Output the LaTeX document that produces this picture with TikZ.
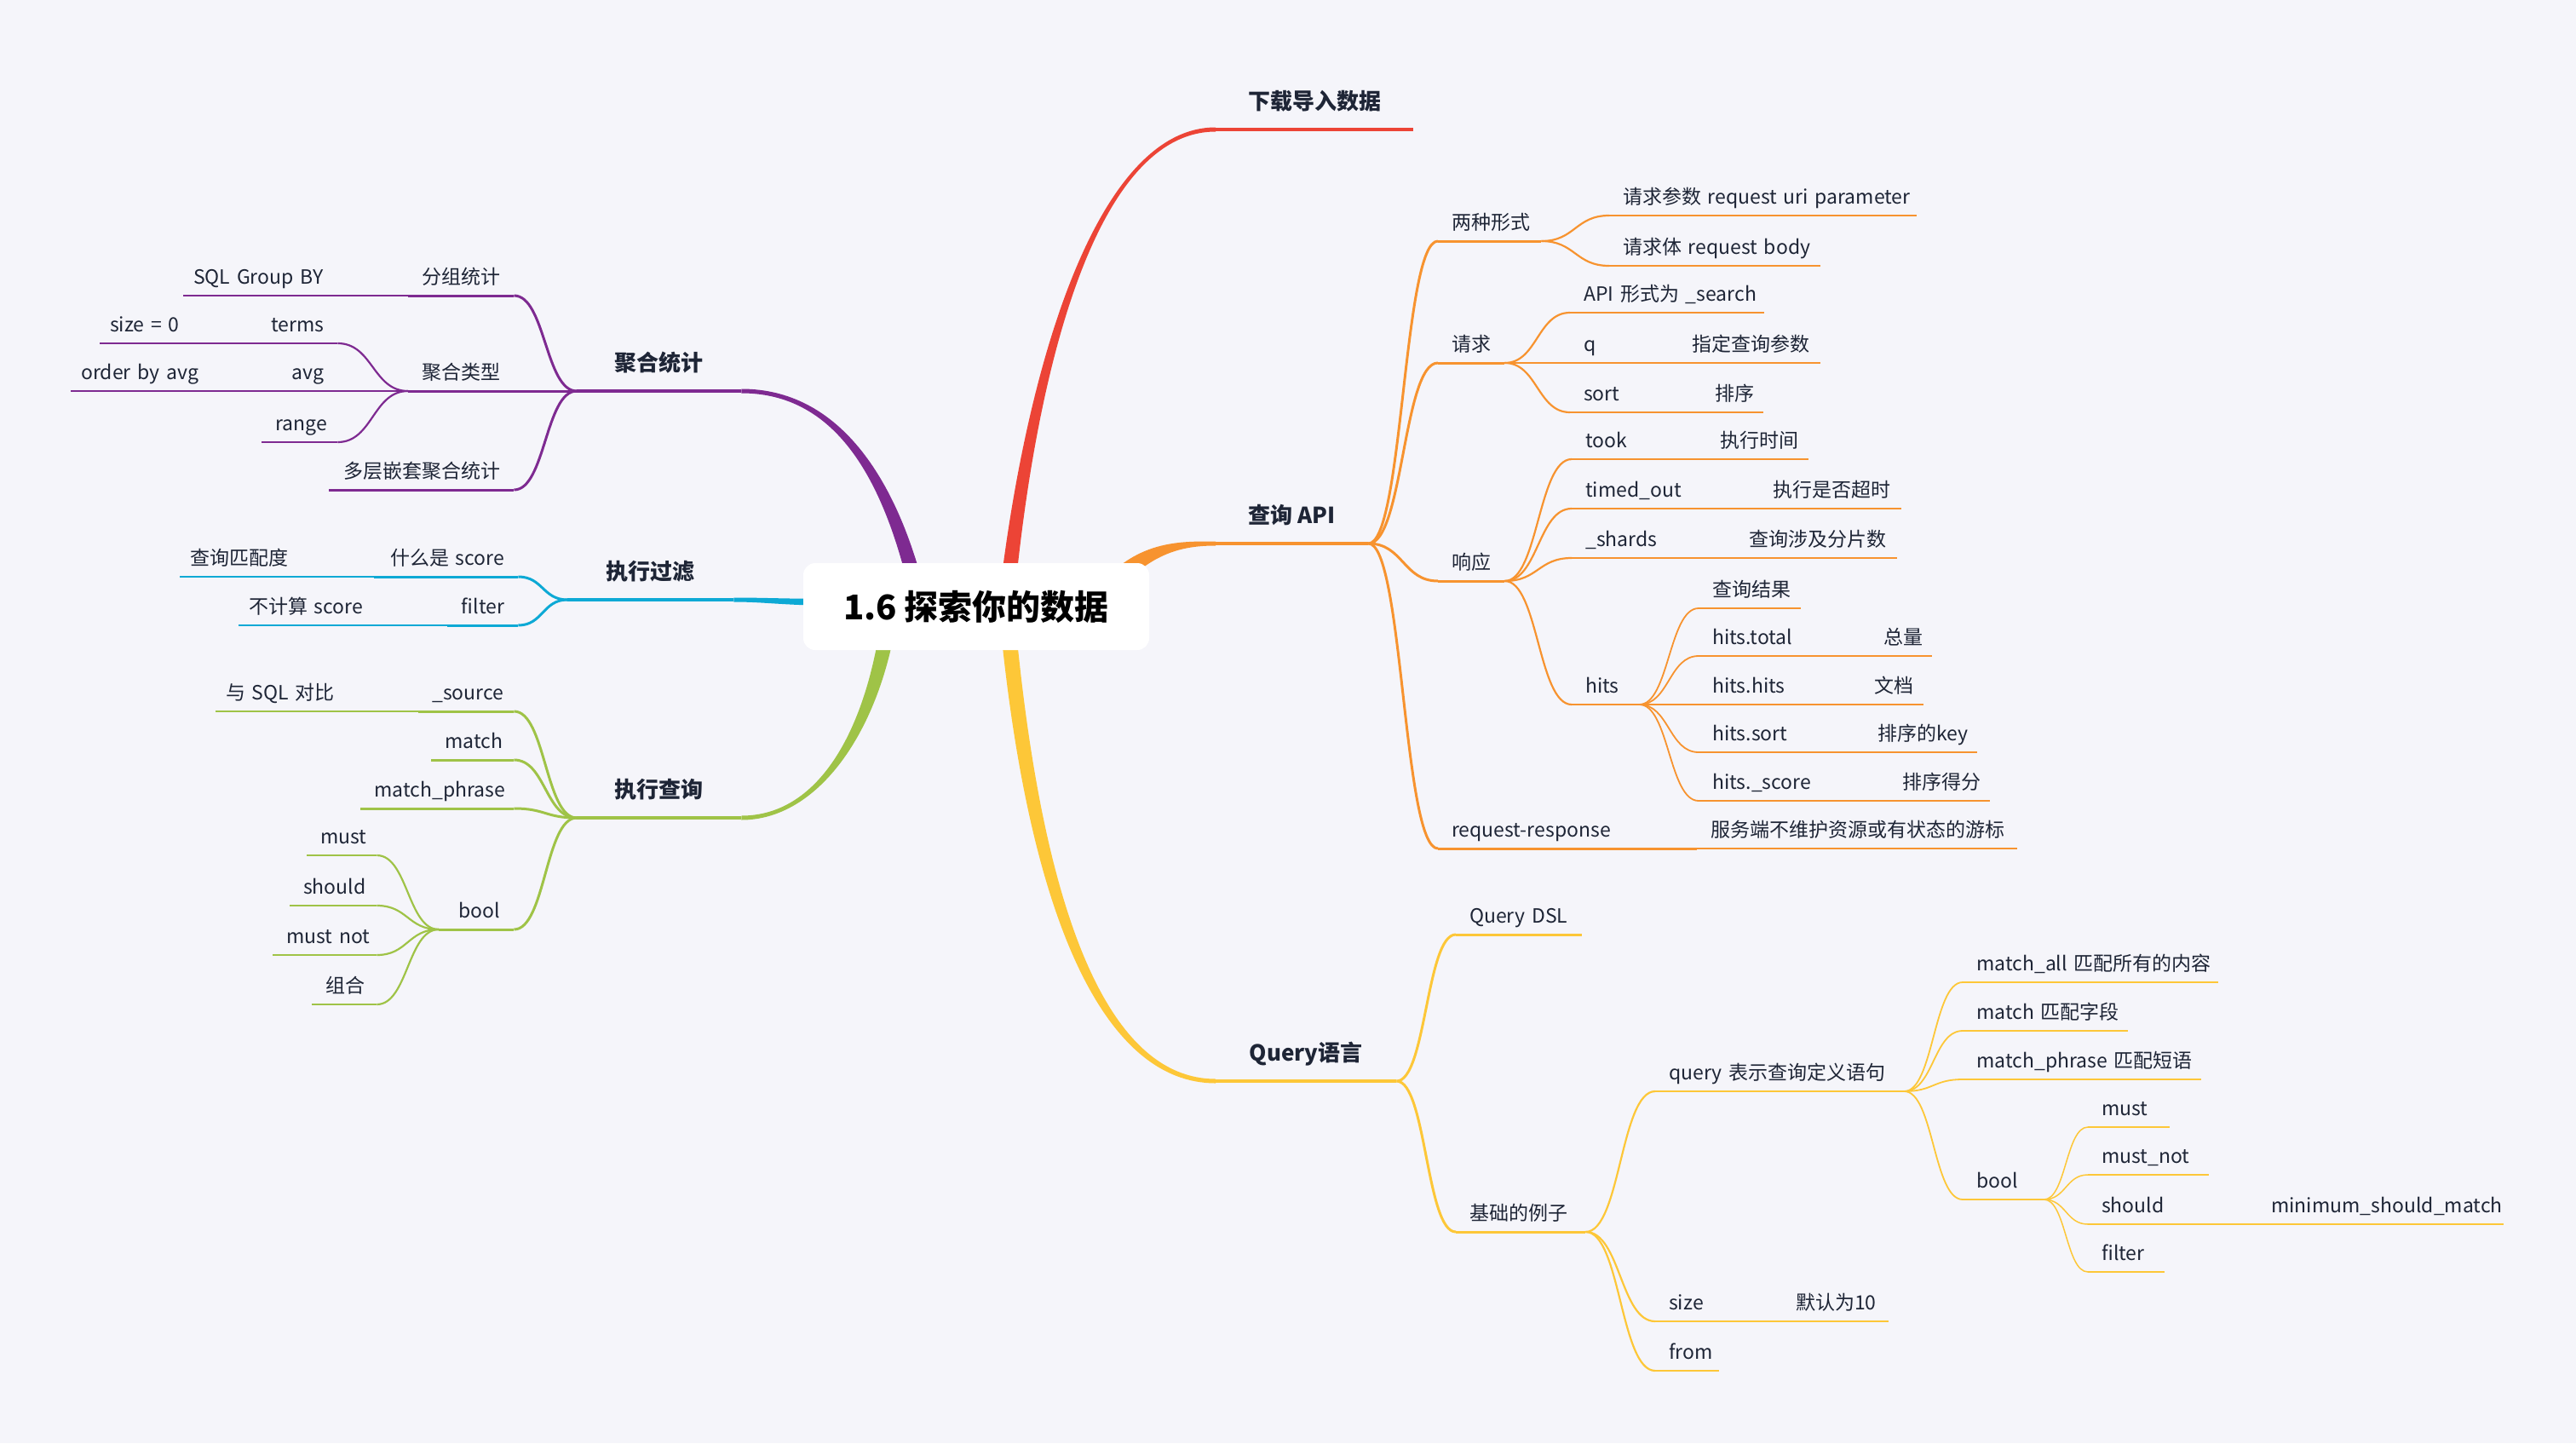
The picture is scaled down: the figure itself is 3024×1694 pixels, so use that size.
\documentclass[tikz,border=0pt]{standalone}
\usepackage{fontspec}
\setmainfont{Noto Sans CJK SC}
\usetikzlibrary{calc}
\hyphenpenalty=10000
\exhyphenpenalty=10000
\definecolor{mmbg}{HTML}{F5F5FA}
\definecolor{mmink}{HTML}{1E2536}
\definecolor{mmred}{HTML}{EC4436}
\definecolor{mmorange}{HTML}{F7932F}
\definecolor{mmyellow}{HTML}{FDC738}
\definecolor{mmgreen}{HTML}{9FC347}
\definecolor{mmcyan}{HTML}{0DA9D5}
\definecolor{mmpurple}{HTML}{7E2A91}
\tikzset{
  every node/.style={text=mmink},
  leaf/.style={anchor=south west, font=\fontsize{23}{27}\selectfont, inner xsep=16pt, inner ysep=8pt,
    text height=18pt, text depth=5pt, align=left, text width=#1},
  leafl/.style={leaf=#1, align=right},
  leafo/.style={leaf=#1, inner xsep=12pt},
  main/.style={anchor=south west, font=\fontsize{26}{30}\selectfont\bfseries, inner xsep=0pt,
    inner ysep=17pt, text height=21pt, text depth=6pt, minimum width=#1},
  branch/.style={to path={.. controls ($(\tikztostart)!0.5!(\tikztotarget |- \tikztostart)$)
      and ($(\tikztotarget)!0.5!(\tikztostart |- \tikztotarget)$) .. (\tikztotarget)}},
  w1/.style={line width=4.5pt},
  w2/.style={line width=3pt},
  w3/.style={line width=2.2pt},
  w4/.style={line width=1.8pt},
  w5/.style={line width=1.5pt},
}
\begin{document}
\begin{tikzpicture}[x=1pt, y=-1pt]
  \fill[mmbg] (0,0) rectangle (3024,1694);

  % first level
  \node[main=232pt] (dl) at (1427,152) {下载导入数据};
  \node[main=179pt] (qapi) at (1427,638) {查询~API};
  \node[main=212pt] (qlang) at (1427,1269) {Query语言};
  \node[main=193pt] (agg) at (677,459) {聚合统计};
  \node[main=195pt] (filt) at (666,704) {执行过滤};
  \node[main=193pt] (exq) at (677,960) {执行查询};

  % 查询 API
  \node[leaf=89pt] (lzxs) at (1688,283) {两种形式};
  \node[leaf=329pt] (qccs) at (1889,253) {请求参数~request~uri~parameter};
  \node[leaf=216pt] (qct) at (1889,312) {请求体~request~body};
  \node[leaf=46pt] (qq) at (1688,426) {请求};
  \node[leaf=196pt] (apis) at (1843,367) {API~形式为~\_search};
  \node[leaf=95pt] (q) at (1843,426) {q};
  \node[leaf=135pt] (zdcx) at (1970,426) {指定查询参数};
  \node[leaf=122pt] (sortn) at (1843,484) {sort};
  \node[leaf=41pt] (px) at (1997,484) {排序};
  \node[leaf=46pt] (xy) at (1688,682) {响应};
  \node[leaf=126pt] (took) at (1845,539) {took};
  \node[leaf=88pt] (zxsj) at (2003,539) {执行时间};
  \node[leaf=188pt] (tout) at (1845,597) {timed\_out};
  \node[leaf=135pt] (sfcs) at (2065,597) {执行是否超时};
  \node[leaf=160pt] (shards) at (1845,655) {\_shards};
  \node[leaf=158pt] (fps) at (2037,655) {查询涉及分片数};
  \node[leaf=47pt] (hits) at (1845,827) {hits};
  \node[leaf=88pt] (cxjg) at (1994,714) {查询结果};
  \node[leaf=169pt] (htot) at (1994,770) {hits.total};
  \node[leaf=41pt] (zl) at (2195,770) {总量};
  \node[leaf=158pt] (hhit) at (1994,827) {hits.hits};
  \node[leaf=42pt] (wd) at (2184,827) {文档};
  \node[leaf=162pt] (hsort) at (1994,883) {hits.sort};
  \node[leaf=101pt] (pxkey) at (2188,883) {排序的key};
  \node[leaf=191pt] (hscore) at (1994,940) {hits.\_score};
  \node[leaf=87pt] (pxdf) at (2217,940) {排序得分};
  \node[leaf=272pt] (rr) at (1688,996) {request-response};
  \node[leaf=344pt] (fwd) at (1992,996) {服务端不维护资源或有状态的游标};

  % Query语言
  \node[leaf=116pt] (qdsl) at (1709,1097) {Query~DSL};
  \node[leaf=120pt] (jcl) at (1709,1446) {基础的例子};
  \node[leaf=260pt] (qdef) at (1943,1281) {query~表示查询定义语句};
  \node[leaf=268pt] (mall) at (2304,1153) {match\_all~匹配所有的内容};
  \node[leaf=162pt] (mzd) at (2304,1210) {match~匹配字段};
  \node[leaf=248pt] (mph) at (2304,1267) {match\_phrase~匹配短语};
  \node[leaf=63pt] (ybool) at (2304,1408) {bool};
  \node[leaf=64pt] (ymust) at (2451,1323) {must};
  \node[leaf=110pt] (ymnot) at (2451,1379) {must\_not};
  \node[leaf=167pt] (yshould) at (2451,1437) {should};
  \node[leaf=257pt] (msm) at (2650,1437) {minimum\_should\_match};
  \node[leaf=58pt] (yfilter) at (2451,1493) {filter};
  \node[leaf=117pt] (ysize) at (1943,1551) {size};
  \node[leaf=93pt] (mr10) at (2092,1551) {默认为10};
  \node[leaf=43pt] (yfrom) at (1943,1609) {from};

  % 聚合统计
  \node[leafl=92pt] (fztj) at (479,347) {分组统计};
  \node[leafo=240pt] (sqlg) at (215,347) {SQL~Group~BY};
  \node[leafl=92pt] (jhlx) at (479,459) {聚合类型};
  \node[leafo=159pt] (sz0) at (117,403) {size~=~0};
  \node[leafl=64pt] (terms) at (300,403) {terms};
  \node[leafo=193pt] (oba) at (83,459) {order~by~avg};
  \node[leafl=64pt] (avg) at (300,459) {avg};
  \node[leafl=57pt] (range) at (307,519) {range};
  \node[leafl=185pt] (dcqt) at (386,575) {多层嵌套聚合统计};

  % 执行过滤
  \node[leafl=137pt] (smsc) at (439,677) {什么是~score};
  \node[leafo=204pt] (cxpp) at (211,677) {查询匹配度};
  \node[leafl=51pt] (cfil) at (525,734) {filter};
  \node[leafo=221pt] (bjs) at (280,734) {不计算~score};

  % 执行查询
  \node[leafl=80pt] (src) at (491,835) {\_source};
  \node[leafo=214pt] (sqlc) at (253,835) {与~SQL~对比};
  \node[leafl=65pt] (gmatch) at (506,892) {match};
  \node[leafl=148pt] (gmp) at (423,949) {match\_phrase};
  \node[leafl=56pt] (gbool) at (515,1091) {bool};
  \node[leafl=50pt] (gmust) at (360,1004) {must};
  \node[leafl=70pt] (gshould) at (340,1063) {should};
  \node[leafl=90pt] (gmnot) at (320,1121) {must~not};
  \node[leafl=44pt] (gzh) at (366,1179) {组合};

  % thick branches out of the centre
  \fill[mmred] (1173,700) .. controls (1206,420) and (1290,149.5) .. ([yshift=2.5pt]dl.south west)
    -- ([yshift=-2.5pt]dl.south west) .. controls (1290,154.5) and (1218,420) .. (1191,700) -- cycle;
  \fill[mmorange] (1303,674) .. controls (1345,634) and (1390,635.5) .. ([yshift=2.5pt]qapi.south west)
    -- ([yshift=-2.5pt]qapi.south west) .. controls (1390,640.5) and (1356,648) .. (1318,687) -- cycle;
  \fill[mmyellow] (1173,720) .. controls (1207,1084) and (1298,1271.5) .. ([yshift=-2.5pt]qlang.south west)
    -- ([yshift=2.5pt]qlang.south west) .. controls (1302,1266.5) and (1223,1076) .. (1191,720) -- cycle;
  \fill[mmpurple] (1069,700) .. controls (1037,560) and (980,461.5) .. ([yshift=-2.5pt]agg.south east)
    -- ([yshift=2.5pt]agg.south east) .. controls (984,456.5) and (1053,560) .. (1087,700) -- cycle;
  \fill[mmcyan] ([yshift=2.5pt]filt.south east) .. controls (900,701.5) and (920,703) .. (990,703)
    -- (990,711) .. controls (920,711) and (900,706.5) .. ([yshift=-2.5pt]filt.south east) -- cycle;
  \fill[mmgreen] (1034,730) .. controls (1015,860) and (960,957.5) .. ([yshift=2.5pt]exq.south east)
    -- ([yshift=-2.5pt]exq.south east) .. controls (960,962.5) and (1031,860) .. (1052,730) -- cycle;

  \draw[mmred, w1] (dl.south west) -- (dl.south east);
  \draw[mmorange, w1] (qapi.south west) -- (qapi.south east);
  \draw[mmyellow, w1] (qlang.south west) -- (qlang.south east);
  \draw[mmpurple, w1] (agg.south west) -- (agg.south east);
  \draw[mmcyan, w1] (filt.south west) -- (filt.south east);
  \draw[mmgreen, w1] (exq.south west) -- (exq.south east);

  % orange
  \foreach \c in {lzxs,qq,xy,rr} \draw[mmorange, w2] (qapi.south east) to[branch] (\c.south west);
  \foreach \c in {qccs,qct} \draw[mmorange, w3] (lzxs.south east) to[branch] (\c.south west);
  \foreach \c in {apis,q,sortn} \draw[mmorange, w3] (qq.south east) to[branch] (\c.south west);
  \foreach \c in {took,tout,shards,hits} \draw[mmorange, w3] (xy.south east) to[branch] (\c.south west);
  \foreach \c in {cxjg,htot,hhit,hsort,hscore} \draw[mmorange, w4] (hits.south east) to[branch] (\c.south west);
  \foreach \n in {lzxs,qq,xy,rr} \draw[mmorange, w2] (\n.south west) -- (\n.south east);
  \foreach \n in {qccs,qct,apis,q,zdcx,sortn,px,took,zxsj,tout,sfcs,shards,fps,hits,fwd}
    \draw[mmorange, w3] (\n.south west) -- (\n.south east);
  \foreach \n in {cxjg,htot,zl,hhit,wd,hsort,pxkey,hscore,pxdf}
    \draw[mmorange, w4] (\n.south west) -- (\n.south east);

  % yellow
  \foreach \c in {qdsl,jcl} \draw[mmyellow, w2] (qlang.south east) to[branch] (\c.south west);
  \foreach \c in {qdef,ysize,yfrom} \draw[mmyellow, w3] (jcl.south east) to[branch] (\c.south west);
  \foreach \c in {mall,mzd,mph,ybool} \draw[mmyellow, w4] (qdef.south east) to[branch] (\c.south west);
  \foreach \c in {ymust,ymnot,yshould,yfilter} \draw[mmyellow, w5] (ybool.south east) to[branch] (\c.south west);
  \foreach \n in {qdsl,jcl} \draw[mmyellow, w2] (\n.south west) -- (\n.south east);
  \foreach \n in {qdef,ysize,mr10,yfrom} \draw[mmyellow, w3] (\n.south west) -- (\n.south east);
  \foreach \n in {mall,mzd,mph,ybool} \draw[mmyellow, w4] (\n.south west) -- (\n.south east);
  \foreach \n in {ymust,ymnot,yshould,msm,yfilter} \draw[mmyellow, w5] (\n.south west) -- (\n.south east);

  % purple
  \foreach \c in {fztj,jhlx,dcqt} \draw[mmpurple, w2] (agg.south west) to[branch] (\c.south east);
  \foreach \c in {terms,avg,range} \draw[mmpurple, w3] (jhlx.south west) to[branch] (\c.south east);
  \foreach \n in {fztj,jhlx,dcqt} \draw[mmpurple, w2] (\n.south west) -- (\n.south east);
  \foreach \n in {sqlg,sz0,terms,oba,avg,range} \draw[mmpurple, w3] (\n.south west) -- (\n.south east);

  % cyan
  \foreach \c in {smsc,cfil} \draw[mmcyan, w2] (filt.south west) to[branch] (\c.south east);
  \foreach \n in {smsc,cfil} \draw[mmcyan, w2] (\n.south west) -- (\n.south east);
  \foreach \n in {cxpp,bjs} \draw[mmcyan, w3] (\n.south west) -- (\n.south east);

  % green
  \foreach \c in {src,gmatch,gmp,gbool} \draw[mmgreen, w2] (exq.south west) to[branch] (\c.south east);
  \foreach \c in {gmust,gshould,gmnot,gzh} \draw[mmgreen, w3] (gbool.south west) to[branch] (\c.south east);
  \foreach \n in {src,gmatch,gmp,gbool} \draw[mmgreen, w2] (\n.south west) -- (\n.south east);
  \foreach \n in {sqlc,gmust,gshould,gmnot,gzh} \draw[mmgreen, w3] (\n.south west) -- (\n.south east);

  % centre
  \node[fill=white, rounded corners=14pt, minimum width=406pt, minimum height=102pt,
    font=\fontsize{40}{48}\selectfont\bfseries, text=black] (root) at (1146,712) {1.6 探索你的数据};
\end{tikzpicture}
\end{document}
